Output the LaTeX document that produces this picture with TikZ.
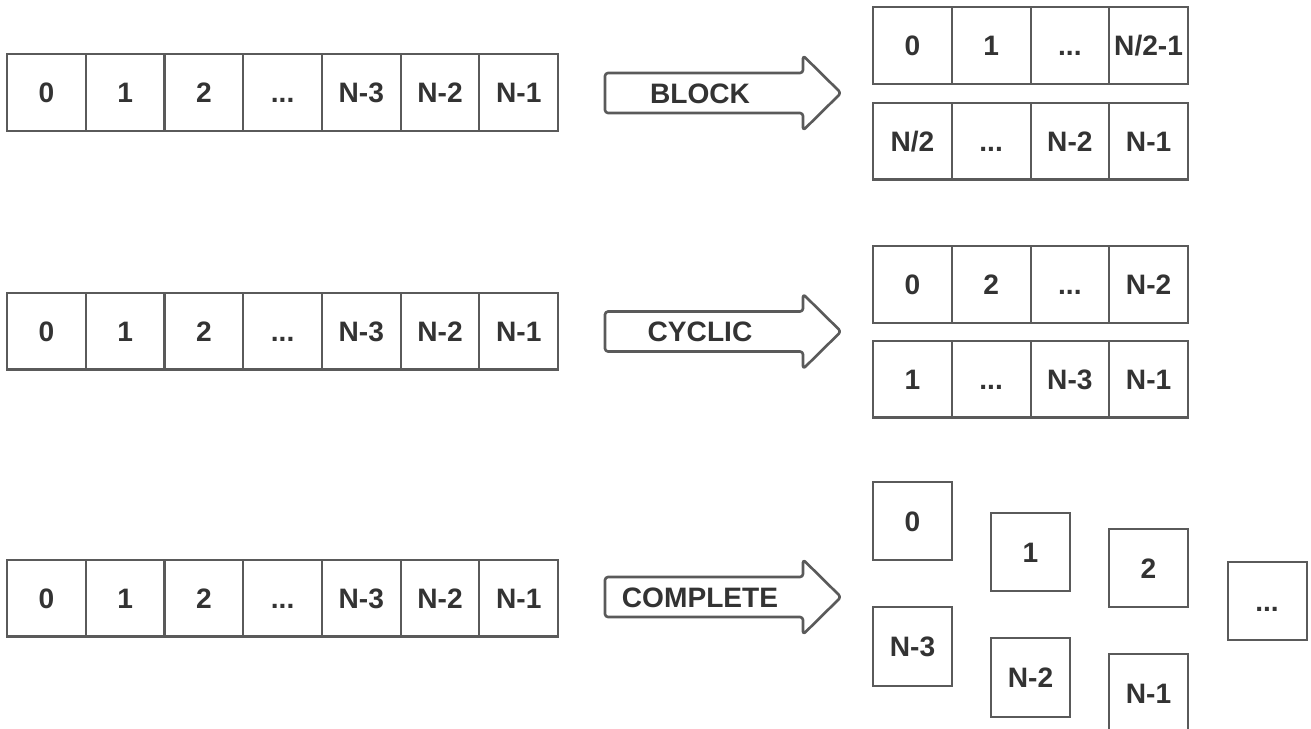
\documentclass[tikz,border=0pt]{standalone}
\usepackage{fontspec}
\setmainfont{Liberation Sans}
\usetikzlibrary{positioning}
\definecolor{edgegray}{HTML}{5A5A5A}
\definecolor{textgray}{HTML}{333333}
\tikzstyle{every node}=[font=\fontsize{16}{19}\selectfont\bfseries, text=textgray, text centered, text height=11.5pt, text depth=0pt]
\tikzstyle{cell} = [draw=edgegray, line width=1.15pt, minimum width=1.575cm, minimum height=1.54cm, outer sep=0pt, inner sep=0pt]
\tikzstyle{pe} = [cell, minimum width=1.58cm, minimum height=1.57cm]
\tikzstyle{fatarrow} = [draw=edgegray, line width=1.5pt, rounded corners=0.06cm, line join=round]

\begin{document}
\begin{tikzpicture}[x=0.02cm, y=-0.02cm]
    \useasboundingbox (0,0) rectangle (1311,728);

    % the three input arrays
    \node[cell] (aA0) at (46.4,92.5) {0};
    \node[cell, right=0pt of aA0] (aA1) {1};
    \node[cell, right=0pt of aA1] (aA2) {2};
    \node[cell, right=0pt of aA2] (aA3) {...};
    \node[cell, right=0pt of aA3] (aA4) {N-3};
    \node[cell, right=0pt of aA4] (aA5) {N-2};
    \node[cell, right=0pt of aA5] (aA6) {N-1};

    \node[cell] (aB0) at (46.4,331) {0};
    \node[cell, right=0pt of aB0] (aB1) {1};
    \node[cell, right=0pt of aB1] (aB2) {2};
    \node[cell, right=0pt of aB2] (aB3) {...};
    \node[cell, right=0pt of aB3] (aB4) {N-3};
    \node[cell, right=0pt of aB4] (aB5) {N-2};
    \node[cell, right=0pt of aB5] (aB6) {N-1};

    \node[cell] (aC0) at (46.4,598) {0};
    \node[cell, right=0pt of aC0] (aC1) {1};
    \node[cell, right=0pt of aC1] (aC2) {2};
    \node[cell, right=0pt of aC2] (aC3) {...};
    \node[cell, right=0pt of aC3] (aC4) {N-3};
    \node[cell, right=0pt of aC4] (aC5) {N-2};
    \node[cell, right=0pt of aC5] (aC6) {N-1};

    % distribution arrows
    \draw[fatarrow] (605,73) -- (803,73) -- (803,55.5) -- (841,93) -- (803,130.5) -- (803,113) -- (605,113) -- cycle;
    \node (blockLabel) at (700,93) {BLOCK};

    \draw[fatarrow] (605,311.5) -- (803,311.5) -- (803,294) -- (841,331.5) -- (803,369) -- (803,351.5) -- (605,351.5) -- cycle;
    \node (cyclicLabel) at (700,331.5) {CYCLIC};

    \draw[fatarrow] (605,577) -- (803,577) -- (803,559.5) -- (841,597) -- (803,634.5) -- (803,617) -- (605,617) -- cycle;
    \node (completeLabel) at (700,597) {COMPLETE};

    % block distribution
    \node[cell] (bk0) at (912.4,45.5) {0};
    \node[cell, right=0pt of bk0] (bk1) {1};
    \node[cell, right=0pt of bk1] (bk2) {...};
    \node[cell, right=0pt of bk2] (bk3) {N/2-1};

    \node[cell] (bk4) at (912.4,141) {N/2};
    \node[cell, right=0pt of bk4] (bk5) {...};
    \node[cell, right=0pt of bk5] (bk6) {N-2};
    \node[cell, right=0pt of bk6] (bk7) {N-1};

    % cyclic distribution
    \node[cell] (cy0) at (912.4,284.5) {0};
    \node[cell, right=0pt of cy0] (cy1) {2};
    \node[cell, right=0pt of cy1] (cy2) {...};
    \node[cell, right=0pt of cy2] (cy3) {N-2};

    \node[cell] (cy4) at (912.4,379) {1};
    \node[cell, right=0pt of cy4] (cy5) {...};
    \node[cell, right=0pt of cy5] (cy6) {N-3};
    \node[cell, right=0pt of cy6] (cy7) {N-1};

    % complete distribution
    \node[pe] (cp0) at (912.5,521) {0};
    \node[pe] (cp1) at (1030.5,552) {1};
    \node[pe] (cp2) at (1148.5,568) {2};
    \node[pe] (cpDots) at (1267,601) {...};
    \node[pe] (cpN3) at (912.5,646.5) {N-3};
    \node[pe] (cpN2) at (1030.5,677.5) {N-2};
    \node[pe] (cpN1) at (1148.5,693) {N-1};

\end{tikzpicture}
\end{document}
